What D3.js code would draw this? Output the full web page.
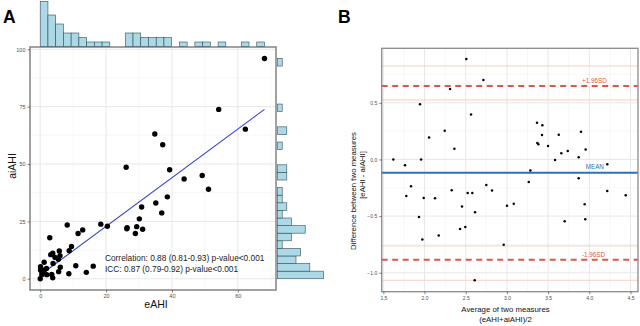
<!DOCTYPE html>
<html>
<head>
<meta charset="utf-8">
<script src="https://cdn.jsdelivr.net/npm/d3@7"></script>
<style>
  html, body { margin: 0; padding: 0; background: #fff; }
  svg text { font-family: "Liberation Sans", Arial, sans-serif; }
</style>
</head>
<body>
<svg width="640" height="326"></svg>
<script>
////////////////////////////// DATA //////////////////////////////

// panel A: paired measures (eAHI vs aiAHI)
var eAHI = [68.1, 54.2, 62.3, 34.8, 37.2, 26.1, 39.3, 49.2, 43.7, 51.1,
            38.6, 35.1, 30.8, 36.9, 30.1, 26.4, 26.3, 29.3, 31.1, 28.9,
            18.4, 20.4, 8.2, 12.9, 11.5, 2.9, 9.5, 8.8, 5.8, 3.8,
            3.2, 6.0, 4.5, 3.9, 1.2, 6.1, 5.6, 10.8, 16.1, 14.0,
            8.7, 0.1, 0.1, 0.5, 1.9, 2.0, 3.5, 3.8, 0.0, 0.5,
            0.9, 1.4, 5.5];
var aiAHI = [96.0, 73.8, 65.2, 63.1, 58.4, 48.6, 47.5, 45.0, 43.5, 39.0,
             35.7, 33.0, 31.3, 28.7, 26.1, 22.3, 21.8, 22.7, 21.6, 19.7,
             23.8, 22.9, 23.4, 21.3, 19.7, 17.9, 14.1, 12.2, 12.1, 11.1,
             10.5, 10.0, 9.3, 6.7, 7.2, 5.0, 3.1, 5.7, 5.5, 2.8,
             2.2, 5.2, 3.8, 3.0, 4.5, 1.8, 1.9, 0.4, 0.0, 1.8,
             2.6, 4.0, 8.5];

var corrText = ["Correlation: 0.88 (0.81-0.93) p-value<0.001",
                "ICC: 0.87 (0.79-0.92) p-value<0.001"];
var nBins = 29;

// panel B: Bland-Altman (mean of log measures vs difference)
var baMean = [2.507, 2.714, 2.310, 1.945, 2.564, 2.245, 2.055, 2.362, 1.621, 1.958,
              1.763, 1.836, 1.779, 1.990, 2.127, 2.330, 2.524, 2.580, 2.750, 2.819,
              2.455, 2.613, 1.933, 2.431, 2.495, 2.172, 1.973, 2.961, 2.609, 3.001,
              3.083, 3.265, 3.284, 3.365, 3.430, 3.426, 3.369, 3.381, 3.499, 3.629,
              3.584, 3.660, 3.738, 3.899, 3.871, 3.956, 4.218, 3.871, 4.218, 4.442,
              3.944, 3.701, 3.951];
var baDiff = [0.887, 0.702, 0.622, 0.487, 0.396, 0.254, 0.193, 0.095, 0.000, 0.000,
              -0.051, -0.237, -0.322, -0.340, -0.343, -0.272, -0.296, -0.296, -0.225, -0.275,
              -0.416, -0.466, -0.507, -0.613, -0.596, -0.672, -0.707, -0.752, -1.066, -0.408,
              -0.390, -0.199, -0.098, 0.325, 0.302, 0.216, 0.146, 0.134, 0.119, 0.219,
              -0.004, 0.055, 0.075, 0.245, 0.019, 0.087, -0.042, -0.166, -0.278, -0.316,
              -0.395, -0.545, -0.528];

var meanDiff = -0.117;
var loaLines = [0.649, -0.884];                 // +1.96SD, -1.96SD
var loaLabels = ["+1.96SD", "-1.96SD"];
var ciLines = [0.825, 0.525, -0.763, -1.066];    // confidence bands of the limits
var zeroLine = 0;

var xTicksA = [0, 20, 40, 60], yTicksA = [0, 25, 50, 75, 100];
var xTicksB = [1.5, 2.0, 2.5, 3.0, 3.5, 4.0, 4.5], yTicksB = [-1.0, -0.5, 0.0, 0.5];

////////////////////////////// SETUP //////////////////////////////

var svg = d3.select("svg");
var tickCol = "#4d4d4d", major = "#e8e8e8", minor = "#f4f4f4";

function grid(g, xs, ys, xMaj, yMaj, box) {
    var xMin = d3.pairs(xMaj).map(function(p) { return (p[0] + p[1]) / 2; });
    var yMin = d3.pairs(yMaj).map(function(p) { return (p[0] + p[1]) / 2; });
    // one more minor line past the ends if it still falls inside the domain
    var xd = xs.domain(), yd = ys.domain();
    var dx = xMaj[1] - xMaj[0], dy = yMaj[1] - yMaj[0];
    [xMaj[0] - dx / 2, xMaj[xMaj.length - 1] + dx / 2].forEach(function(v) {
        if (v > xd[0] && v < xd[1]) xMin.push(v); });
    [yMaj[0] - dy / 2, yMaj[yMaj.length - 1] + dy / 2].forEach(function(v) {
        if (v > d3.min(yd) && v < d3.max(yd)) yMin.push(v); });

    g.selectAll(".gxm").data(xMin).enter().append("line")
        .attr("x1", xs).attr("x2", xs).attr("y1", box.y0).attr("y2", box.y1)
        .attr("stroke", minor).attr("stroke-width", 0.6);
    g.selectAll(".gym").data(yMin).enter().append("line")
        .attr("y1", ys).attr("y2", ys).attr("x1", box.x0).attr("x2", box.x1)
        .attr("stroke", minor).attr("stroke-width", 0.6);
    g.selectAll(".gx").data(xMaj).enter().append("line")
        .attr("x1", xs).attr("x2", xs).attr("y1", box.y0).attr("y2", box.y1)
        .attr("stroke", major).attr("stroke-width", 1);
    g.selectAll(".gy").data(yMaj).enter().append("line")
        .attr("y1", ys).attr("y2", ys).attr("x1", box.x0).attr("x2", box.x1)
        .attr("stroke", major).attr("stroke-width", 1);
}

function axes(g, xs, ys, xt, yt, box, fmtX, fmtY, fs) {
    g.append("g").attr("transform", "translate(0," + box.y1 + ")")
        .call(d3.axisBottom(xs).tickValues(xt).tickSize(2.5).tickPadding(2).tickFormat(fmtX))
        .call(function(a) {
            a.select(".domain").remove();
            a.selectAll("line").attr("stroke", "#333").attr("stroke-width", 0.6);
            a.selectAll("text").attr("fill", tickCol).attr("font-size", fs)
                .attr("font-family", "Liberation Sans, Arial, sans-serif");
        });
    g.append("g").attr("transform", "translate(" + box.x0 + ",0)")
        .call(d3.axisLeft(ys).tickValues(yt).tickSize(2.5).tickPadding(2).tickFormat(fmtY))
        .call(function(a) {
            a.select(".domain").remove();
            a.selectAll("line").attr("stroke", "#333").attr("stroke-width", 0.6);
            a.selectAll("text").attr("fill", tickCol).attr("font-size", fs)
                .attr("font-family", "Liberation Sans, Arial, sans-serif");
        });
}

////////////////////////////// PANEL A //////////////////////////////

var boxA = {x0: 30, x1: 276, y0: 47, y1: 290};
var xA = d3.scaleLinear().domain([-3.1, 71.6]).range([boxA.x0, boxA.x1]);
var yA = d3.scaleLinear().domain([-4.9, 101]).range([boxA.y1, boxA.y0]);
var gA = svg.append("g");

grid(gA, xA, yA, xTicksA, yTicksA, boxA);

// regression line from least squares on the points
var mx = d3.mean(eAHI), my = d3.mean(aiAHI);
var sxy = d3.sum(eAHI, function(d, i) { return (d - mx) * (aiAHI[i] - my); });
var sxx = d3.sum(eAHI, function(d) { return (d - mx) * (d - mx); });
var slope = sxy / sxx, icpt = my - slope * mx;
var xr = d3.extent(eAHI);
gA.append("line")
    .attr("x1", xA(xr[0])).attr("y1", yA(icpt + slope * xr[0]))
    .attr("x2", xA(xr[1])).attr("y2", yA(icpt + slope * xr[1]))
    .attr("stroke", "#3340d8").attr("stroke-width", 1.1);

gA.selectAll(".pt").data(eAHI).enter().append("circle")
    .attr("cx", function(d) { return xA(d); })
    .attr("cy", function(d, i) { return yA(aiAHI[i]); })
    .attr("r", 2.7).attr("fill", "#000");

gA.selectAll(".ct").data(corrText).enter().append("text")
    .attr("x", 105).attr("y", function(d, i) { return 261.3 + i * 11; })
    .attr("font-size", 8.3).attr("fill", "#1a1a1a").text(function(d) { return d; });

gA.append("rect").attr("x", boxA.x0).attr("y", boxA.y0)
    .attr("width", boxA.x1 - boxA.x0).attr("height", boxA.y1 - boxA.y0)
    .attr("fill", "none").attr("stroke", "#8a8a8a").attr("stroke-width", 1.6);

axes(gA, xA, yA, xTicksA, yTicksA, boxA, d3.format("d"), d3.format("d"), 5.5);

gA.append("text").attr("x", 156).attr("y", 307.5).attr("text-anchor", "middle")
    .attr("font-size", 10.5).attr("fill", "#111").text("eAHI");
gA.append("text").attr("transform", "translate(15.8,166) rotate(-90)")
    .attr("text-anchor", "middle").attr("font-size", 10.5).attr("fill", "#111").text("aiAHI");

// marginal histograms
var histFill = "#add8e6", histLine = "#2f4f5a";

var xExt = d3.extent(eAHI), wX = (xExt[1] - xExt[0]) / nBins;
var binsX = d3.bin().domain(xExt)
    .thresholds(d3.range(1, nBins).map(function(i) { return xExt[0] + i * wX; }))(eAHI);
var hTop = d3.scaleLinear().domain([0, 10]).range([46.5, 1.5]);
gA.selectAll(".hx").data(binsX.filter(function(b) { return b.length > 0; })).enter().append("rect")
    .attr("x", function(b) { return xA(b.x0); })
    .attr("width", function(b) { return xA(b.x1) - xA(b.x0); })
    .attr("y", function(b) { return hTop(b.length); })
    .attr("height", function(b) { return hTop(0) - hTop(b.length); })
    .attr("fill", histFill).attr("stroke", histLine).attr("stroke-width", 0.6);

var yExt = d3.extent(aiAHI), wY = (yExt[1] - yExt[0]) / nBins;
var binsY = d3.bin().domain(yExt)
    .thresholds(d3.range(1, nBins).map(function(i) { return yExt[0] + i * wY; }))(aiAHI);
var hRight = d3.scaleLinear().domain([0, 10]).range([277.6, 323.6]);
gA.selectAll(".hy").data(binsY.filter(function(b) { return b.length > 0; })).enter().append("rect")
    .attr("y", function(b) { return yA(b.x1); })
    .attr("height", function(b) { return yA(b.x0) - yA(b.x1); })
    .attr("x", hRight(0))
    .attr("width", function(b) { return hRight(b.length) - hRight(0); })
    .attr("fill", histFill).attr("stroke", histLine).attr("stroke-width", 0.6);

svg.append("text").attr("x", 3).attr("y", 22.7).attr("font-size", 17.5)
    .attr("font-weight", "bold").attr("fill", "#000").text("A");

////////////////////////////// PANEL B //////////////////////////////

var boxB = {x0: 381.7, x1: 638, y0: 48.3, y1: 291.7};
var xB = d3.scaleLinear().domain([1.48, 4.591]).range([boxB.x0, boxB.x1]);
var yB = d3.scaleLinear().domain([-1.167, 0.981]).range([boxB.y1, boxB.y0]);
var gB = svg.append("g");

grid(gB, xB, yB, xTicksB, yTicksB, boxB);

var ciCol = "#f6c9b9", loaCol = "#e2553f", meanCol = "#2f6fb6";

gB.append("line").attr("x1", boxB.x0).attr("x2", boxB.x1)
    .attr("y1", yB(zeroLine)).attr("y2", yB(zeroLine))
    .attr("stroke", "#f8e0d8").attr("stroke-width", 0.8);

gB.selectAll(".ci").data(ciLines).enter().append("line")
    .attr("x1", boxB.x0).attr("x2", boxB.x1)
    .attr("y1", yB).attr("y2", yB)
    .attr("stroke", ciCol).attr("stroke-width", 0.9);

gB.selectAll(".loa").data(loaLines).enter().append("line")
    .attr("x1", boxB.x0).attr("x2", boxB.x1)
    .attr("y1", yB).attr("y2", yB)
    .attr("stroke", loaCol).attr("stroke-width", 2)
    .attr("stroke-dasharray", "6,4.5");

gB.append("line").attr("x1", boxB.x0).attr("x2", boxB.x1)
    .attr("y1", yB(meanDiff)).attr("y2", yB(meanDiff))
    .attr("stroke", meanCol).attr("stroke-width", 2);

gB.selectAll(".pt").data(baMean).enter().append("circle")
    .attr("cx", function(d) { return xB(d); })
    .attr("cy", function(d, i) { return yB(baDiff[i]); })
    .attr("r", 1.25).attr("fill", "#000");

gB.selectAll(".loal").data(loaLines).enter().append("text")
    .attr("x", 582).attr("y", function(d) { return yB(d) - 2.5; })
    .attr("font-size", 6.3).attr("fill", loaCol)
    .text(function(d, i) { return loaLabels[i]; });
gB.append("text").attr("x", 585.7).attr("y", yB(meanDiff) - 3.5)
    .attr("font-size", 6.3).attr("fill", meanCol).text("MEAN");

gB.append("rect").attr("x", boxB.x0).attr("y", boxB.y0)
    .attr("width", boxB.x1 - boxB.x0).attr("height", boxB.y1 - boxB.y0)
    .attr("fill", "none").attr("stroke", "#8a8a8a").attr("stroke-width", 1.3);

axes(gB, xB, yB, xTicksB, yTicksB, boxB, d3.format(".1f"), d3.format(".1f"), 5);

gB.append("text").attr("x", 505.5).attr("y", 312.3).attr("text-anchor", "middle")
    .attr("font-size", 7.8).attr("fill", "#111").text("Average of two measures");
gB.append("text").attr("x", 505.5).attr("y", 321.5).attr("text-anchor", "middle")
    .attr("font-size", 7.8).attr("fill", "#111").text("(eAHI+aiAHI)/2");
gB.append("text").attr("transform", "translate(355.5,191) rotate(-90)")
    .attr("text-anchor", "middle").attr("font-size", 7.8).attr("fill", "#111")
    .text("Difference between two measures");
gB.append("text").attr("transform", "translate(364.5,175) rotate(-90)")
    .attr("text-anchor", "middle").attr("font-size", 7.8).attr("fill", "#111")
    .text("[eAHI - aiAHI]");

svg.append("text").attr("x", 338).attr("y", 23.3).attr("font-size", 17.5)
    .attr("font-weight", "bold").attr("fill", "#000").text("B");
</script>
</body>
</html>
